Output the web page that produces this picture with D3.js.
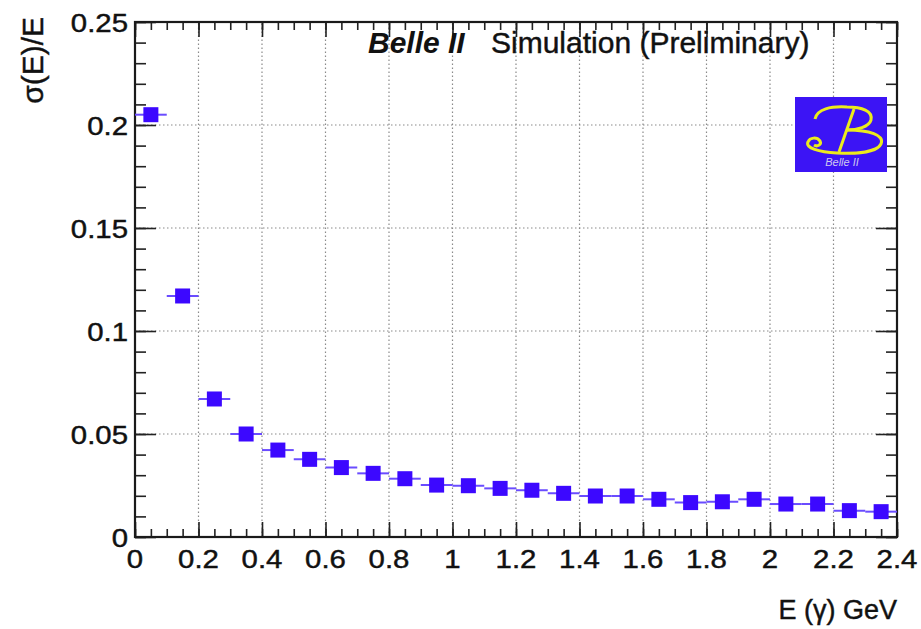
<!DOCTYPE html>
<html>
<head>
<meta charset="utf-8">
<script src="https://cdn.jsdelivr.net/npm/d3@7"></script>
<style>
  body { margin: 0; background: #fff; }
  text { font-family: "Liberation Sans", Arial, Helvetica, sans-serif; fill: #111; }
  text.heavy { stroke: #111; stroke-width: 0.45px; }
</style>
</head>
<body>
<script>
// photon energy bins (GeV) and resolution sigma(E)/E
var binCenters = [0.05, 0.15, 0.25, 0.35, 0.45, 0.55, 0.65, 0.75, 0.85, 0.95, 1.05, 1.15,
                  1.25, 1.35, 1.45, 1.55, 1.65, 1.75, 1.85, 1.95, 2.05, 2.15, 2.25, 2.35];
var sigmaOverE = [0.205, 0.117, 0.067, 0.050, 0.0422, 0.0377, 0.0337, 0.0309, 0.0283, 0.0252, 0.0249, 0.0236,
                  0.0227, 0.0212, 0.0199, 0.0199, 0.0183, 0.0167, 0.0171, 0.0183, 0.0160, 0.0160, 0.0128, 0.0123];
var binHalfWidth = 0.05; // x error

var xTicks = [0, 0.2, 0.4, 0.6, 0.8, 1, 1.2, 1.4, 1.6, 1.8, 2, 2.2, 2.4];
var xTickLabels = ["0", "0.2", "0.4", "0.6", "0.8", "1", "1.2", "1.4", "1.6", "1.8", "2", "2.2", "2.4"];
var yTicks = [0, 0.05, 0.1, 0.15, 0.2, 0.25];
var yTickLabels = ["0", "0.05", "0.1", "0.15", "0.2", "0.25"];

var width = 921;
var height = 629;
var margin = {top: 22, right: 24, bottom: 92, left: 135};
var blue = "#3c08ff";
var stretch = 1.13; // labels in the picture are a bit wider than Arial

var svg = d3.select("body").append("svg").attr("width", width).attr("height", height);

var x = d3.scaleLinear().domain([0, 2.4]).range([margin.left, width - margin.right]);
var y = d3.scaleLinear().domain([0, 0.25]).range([height - margin.bottom, margin.top]);

// dotted grid at major ticks
svg.append("g").selectAll("line").data(xTicks.slice(1, -1)).enter().append("line")
    .attr("x1", function(d) { return x(d); }).attr("x2", function(d) { return x(d); })
    .attr("y1", y(0)).attr("y2", y(0.25))
    .attr("stroke", "#8a8a8a").attr("stroke-width", 1.2).attr("stroke-dasharray", "1.5,2.5");
svg.append("g").selectAll("line").data(yTicks.slice(1, -1)).enter().append("line")
    .attr("y1", function(d) { return y(d); }).attr("y2", function(d) { return y(d); })
    .attr("x1", x(0)).attr("x2", x(2.4))
    .attr("stroke", "#8a8a8a").attr("stroke-width", 1.2).attr("stroke-dasharray", "1.5,2.5");

// ticks inside the frame on all four sides (ROOT style)
var xMinor = d3.range(0, 2.401, 0.05);
var yMinor = d3.range(0, 0.2501, 0.01);
function addAxis(axis, tx, ty) {
  var g = svg.append("g").attr("transform", "translate(" + tx + "," + ty + ")").call(axis);
  g.select(".domain").remove();
  g.selectAll("text").remove();
  g.selectAll("line").attr("stroke", "#222").attr("stroke-width", 1.6);
}
addAxis(d3.axisBottom(x).tickValues(xMinor).tickSize(-8), 0, y(0));
addAxis(d3.axisBottom(x).tickValues(xTicks).tickSize(-15), 0, y(0));
addAxis(d3.axisTop(x).tickValues(xMinor).tickSize(-8), 0, y(0.25));
addAxis(d3.axisTop(x).tickValues(xTicks).tickSize(-15), 0, y(0.25));
addAxis(d3.axisLeft(y).tickValues(yMinor).tickSize(-11), x(0), 0);
addAxis(d3.axisLeft(y).tickValues(yTicks).tickSize(-21), x(0), 0);
addAxis(d3.axisRight(y).tickValues(yMinor).tickSize(-11), x(2.4), 0);
addAxis(d3.axisRight(y).tickValues(yTicks).tickSize(-21), x(2.4), 0);

// frame
svg.append("rect")
    .attr("x", x(0)).attr("y", y(0.25))
    .attr("width", x(2.4) - x(0)).attr("height", y(0) - y(0.25))
    .attr("fill", "none").attr("stroke", "#1a1a1a").attr("stroke-width", 2.2);

// tick labels
svg.append("g").selectAll("text").data(xTicks).enter().append("text")
    .attr("class", "heavy")
    .attr("transform", function(d) { return "translate(" + x(d) + "," + (y(0) + 31) + ") scale(" + stretch + ",1)"; })
    .attr("text-anchor", "middle")
    .attr("font-size", 26)
    .text(function(d, i) { return xTickLabels[i]; });
svg.append("g").selectAll("text").data(yTicks).enter().append("text")
    .attr("class", "heavy")
    .attr("transform", function(d) { return "translate(" + (x(0) - 7) + "," + (y(d) + 10) + ") scale(" + stretch + ",1)"; })
    .attr("text-anchor", "end")
    .attr("font-size", 26)
    .text(function(d, i) { return yTickLabels[i]; });

// axis titles
svg.append("text")
    .attr("class", "heavy")
    .attr("transform", "translate(43,17) rotate(-90)")
    .attr("text-anchor", "end")
    .attr("font-size", 30)
    .text("σ(E)/E");
svg.append("text")
    .attr("class", "heavy")
    .attr("x", x(2.4)).attr("y", 619)
    .attr("text-anchor", "end")
    .attr("font-size", 27)
    .text("E (γ) GeV");

// x error bars and markers
var pts = binCenters.map(function(c, i) { return {x: c, y: sigmaOverE[i]}; });
svg.append("g").selectAll("line").data(pts).enter().append("line")
    .attr("x1", function(d) { return x(d.x - binHalfWidth); })
    .attr("x2", function(d) { return x(d.x + binHalfWidth); })
    .attr("y1", function(d) { return y(d.y); })
    .attr("y2", function(d) { return y(d.y); })
    .attr("stroke", "#6a4cff").attr("stroke-width", 2);
svg.append("g").selectAll("rect").data(pts).enter().append("rect")
    .attr("x", function(d) { return x(d.x) - 7.5; })
    .attr("y", function(d) { return y(d.y) - 7.5; })
    .attr("width", 15).attr("height", 15)
    .attr("fill", blue);

// title
svg.append("text").attr("x", 368).attr("y", 53).attr("font-size", 30)
    .attr("font-weight", "bold").attr("font-style", "italic").text("Belle II");
svg.append("text").attr("class", "heavy").attr("x", 491).attr("y", 53).attr("font-size", 30)
    .text("Simulation (Preliminary)");

// Belle II logo
var logo = svg.append("g").attr("transform", "translate(795,97)");
logo.append("rect").attr("width", 92).attr("height", 75).attr("fill", "#3c14f5");
logo.append("path") // top bowl
    .attr("d", "M20,22 C22,12 36,9 52,10 C67,10 78,14 76,23 C74,30 62,33 52,33")
    .attr("fill", "none").attr("stroke", "#ecec1c").attr("stroke-width", 3);
logo.append("path") // stem
    .attr("d", "M59,12 L44,55")
    .attr("fill", "none").attr("stroke", "#ecec1c").attr("stroke-width", 3);
logo.append("path") // bottom bowl with swash
    .attr("d", "M52,33 C74,33 90,38 86,47 C82,55 62,57 42,56 C24,55 10,51 13,45 C15,40 22,40 25,44 C27,48 22,50 19,48")
    .attr("fill", "none").attr("stroke", "#ecec1c").attr("stroke-width", 3);
logo.append("text")
    .attr("x", 47).attr("y", 69)
    .attr("text-anchor", "middle")
    .attr("font-style", "italic")
    .attr("font-size", 11)
    .style("fill", "#cfc8ef")
    .text("Belle II");
</script>
</body>
</html>
